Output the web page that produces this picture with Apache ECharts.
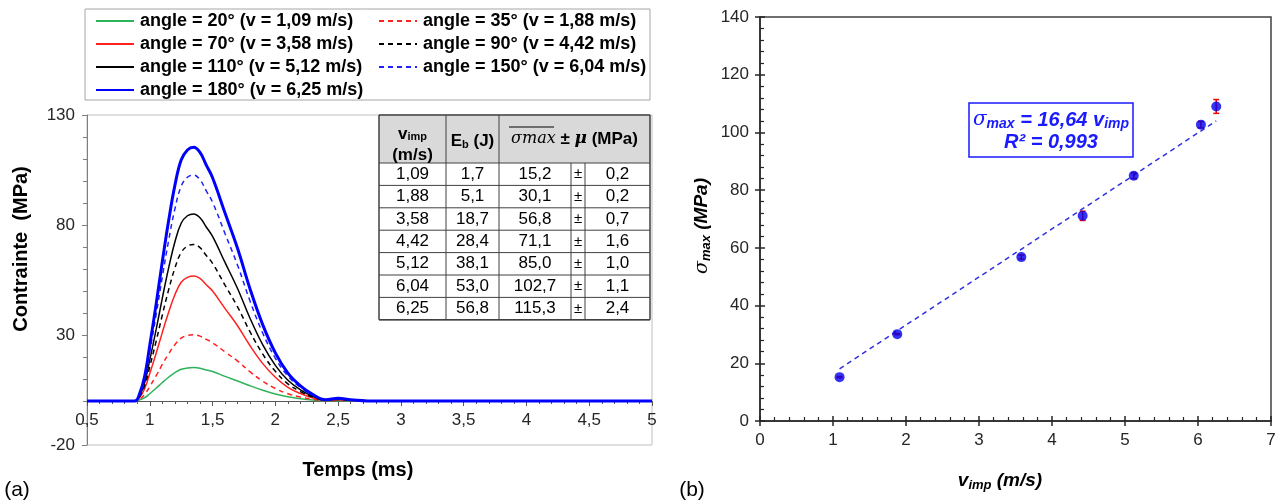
<!DOCTYPE html>
<html><head><meta charset="utf-8">
<script src="https://cdn.jsdelivr.net/npm/echarts@6/dist/echarts.min.js"></script>
<style>html,body{margin:0;padding:0;background:#fff}#c{width:1281px;height:503px}</style>
</head><body><div id="c"></div><script>
// ---- data: left chart (stress vs time)
const time = [0.5,0.88,0.92,0.96,1.0,1.05,1.1,1.15,1.2,1.25,1.3,1.35,1.4,1.45,1.5,1.6,1.7,1.8,1.9,2.0,2.1,2.2,2.3,2.4,2.5,2.6,2.8,5.0];
const s20  = [0,0,0.5,1.5,3.3,5.8,8.4,10.8,12.9,14.4,15.0,15.2,14.9,14.1,13.4,11.2,9.1,6.9,4.9,3.2,1.9,1.0,0.4,0.1,0.1,0.1,0,0];
const s35  = [0,0,0.9,3.0,6.6,11.4,16.6,21.4,25.6,28.6,29.8,30.1,29.5,28.0,26.5,22.3,18.1,13.2,9.0,5.7,3.3,1.8,0.8,0.2,0.3,0.2,0,0];
const s70  = [0,0,1.7,5.7,12.5,21.6,31.2,40.3,48.3,54.0,56.2,56.8,55.7,52.8,50.0,42.0,34.1,25.0,17.0,10.8,6.2,3.4,1.4,0.3,0.6,0.3,0,0];
const s90  = [0,0,2.1,7.1,15.6,27.0,39.1,50.5,60.4,67.5,70.4,71.1,69.7,66.1,62.6,52.6,42.7,31.3,21.3,13.5,7.8,4.3,1.8,0.4,0.7,0.4,0,0];
const s110 = [0,0,2.6,8.5,18.7,32.3,46.8,60.4,72.3,80.8,84.2,85.0,83.3,79.1,74.8,62.9,51.0,37.4,25.5,16.2,9.4,5.1,2.1,0.4,0.9,0.4,0,0];
const s150 = [0,0,3.1,10.3,22.6,39.0,56.5,72.9,87.3,97.6,101.7,102.7,100.6,95.5,90.4,76.0,61.6,45.2,30.8,19.5,11.3,6.2,2.6,0.5,1.0,0.5,0,0];
const s180 = [0,0,3.5,11.5,25.4,43.8,63.4,81.9,98.0,109.5,114.1,115.3,113.0,107.2,101.5,85.3,69.2,50.7,34.6,21.9,12.7,6.9,2.9,0.6,1.2,0.6,0,0];
const seriesNames = ['angle = 20° (v = 1,09 m/s)','angle = 35° (v = 1,88 m/s)','angle = 70° (v = 3,58 m/s)','angle = 90° (v = 4,42 m/s)','angle = 110° (v = 5,12 m/s)','angle = 150° (v = 6,04 m/s)','angle = 180° (v = 6,25 m/s)'];
// ---- table data
const vImp  = [1.09,1.88,3.58,4.42,5.12,6.04,6.25];
const eB    = [1.7,5.1,18.7,28.4,38.1,53.0,56.8];
const sigMax= [15.2,30.1,56.8,71.1,85.0,102.7,115.3];
const mu    = [0.2,0.2,0.7,1.6,1.0,1.1,2.4];
// ---- right chart data
const sigPlot = [15.2,30.1,56.8,71.1,85.0,102.7,109.0];
const trendX = [1.09,6.25];
const trendY = [18.1,104.0];

const FONT = '"Liberation Sans", Arial, sans-serif';
const fmt = (v,d)=>v.toFixed(d).replace('.',',');
const pair = arr => time.map((t,i)=>[t,arr[i]]);

const styles = [
  {c:'#2eb35a', t:'solid', w:1.5},
  {c:'#ff2020', t:'dashed', w:1.5},
  {c:'#ff2020', t:'solid', w:1.5},
  {c:'#000000', t:'dashed', w:1.5},
  {c:'#000000', t:'solid', w:1.5},
  {c:'#2020ff', t:'dashed', w:1.5},
  {c:'#0000ff', t:'solid', w:3}
];
const sData = [s20,s35,s70,s90,s110,s150,s180];
const lineSeries = sData.map((d,i)=>({
  type:'line', name:seriesNames[i], xAxisIndex:0, yAxisIndex:0, data:pair(d),
  symbol:'none', smooth:0.4, z: 2+i,
  lineStyle:{color:styles[i].c, type: styles[i].t==='dashed'?[5,4]:'solid', width:styles[i].w},
  itemStyle:{color:styles[i].c}
}));

// ---- table graphics
const TX = [379,446,499,571,585,650];
const TTOP = 115, THB = 163, RH = 22.4;
const TBOT = THB + RH*vImp.length;
const g = [];
g.push({type:'rect', shape:{x:TX[0],y:TTOP,width:TX[5]-TX[0],height:TBOT-TTOP}, style:{fill:'#fff'}, z:10});
g.push({type:'rect', shape:{x:TX[0],y:TTOP,width:TX[5]-TX[0],height:THB-TTOP}, style:{fill:'#d9d9d9'}, z:10});
const ln = (x1,y1,x2,y2,w,c)=>({type:'line', shape:{x1,y1,x2,y2}, style:{stroke:c||'#404040', lineWidth:w||1}, z:11});
for(let i=0;i<=vImp.length;i++){ const y = THB + RH*i; g.push(ln(TX[0],y,TX[5],y,1)); }
g.push(ln(TX[0],TTOP,TX[5],TTOP,1.5));
g.push(ln(TX[0],TTOP,TX[0],TBOT,1.5));
g.push(ln(TX[5],TTOP,TX[5],TBOT,1.5));
g.push(ln(TX[0],TBOT,TX[5],TBOT,1.5));
g.push(ln(TX[1],TTOP,TX[1],TBOT,1));
g.push(ln(TX[2],TTOP,TX[2],TBOT,1));
g.push(ln(TX[3],THB,TX[3],TBOT,1));
g.push(ln(TX[4],THB,TX[4],TBOT,1));
const tx = (x,y,text,extra)=>Object.assign({type:'text', x, y, z:12, style:Object.assign({text, fontFamily:FONT, fontSize:17, fill:'#000', align:'center', verticalAlign:'middle'}, extra||{})});
// header
g.push(tx((TX[0]+TX[1])/2, 134, '{b|v}{s|imp}', {rich:{b:{fontFamily:FONT,fontSize:17,fontWeight:'bold',fill:'#000'}, s:{fontFamily:FONT,fontSize:11,fontWeight:'bold',fill:'#000',padding:[6,0,0,0]}}}));
g.push(tx((TX[0]+TX[1])/2, 155, '(m/s)', {fontWeight:'bold'}));
g.push(tx((TX[1]+TX[2])/2, 141, '{b|E}{s|b}{b| (J)}', {rich:{b:{fontFamily:FONT,fontSize:17,fontWeight:'bold',fill:'#000'}, s:{fontFamily:FONT,fontSize:11,fontWeight:'bold',fill:'#000',padding:[7,0,0,0]}}}));
g.push(tx((TX[2]+TX[5])/2, 139, '{sg|σmax}{b| ± }{mu|μ}{b| (MPa)}', {rich:{
  sg:{fontFamily:'"DejaVu Serif", serif',fontStyle:'italic',fontSize:16,fill:'#000'},
  b:{fontFamily:FONT,fontSize:17,fontWeight:'bold',fill:'#000'},
  mu:{fontFamily:'"DejaVu Serif", serif',fontStyle:'italic',fontWeight:'bold',fontSize:17,fill:'#000'}}}));
g.push(ln(509,127,554,127,1,'#000'));
// rows
for(let i=0;i<vImp.length;i++){
  const y = THB + RH*(i+0.5);
  g.push(tx((TX[0]+TX[1])/2, y, fmt(vImp[i],2)));
  g.push(tx((TX[1]+TX[2])/2, y, fmt(eB[i],1)));
  g.push(tx((TX[2]+TX[3])/2, y, fmt(sigMax[i],1)));
  g.push(tx((TX[3]+TX[4])/2, y, '±', {fontSize:15}));
  g.push(tx((TX[4]+TX[5])/2, y, fmt(mu[i],1)));
}
// legend box
g.push({type:'rect', shape:{x:85,y:9,width:565,height:91}, style:{fill:'none', stroke:'#a6a6a6', lineWidth:1}, z:1});
// axis names
g.push({type:'text', x:21, y:249, rotation:Math.PI/2, style:{text:'Contrainte  (MPa)', fontFamily:FONT, fontSize:20, fontWeight:'bold', fill:'#000', align:'center', verticalAlign:'middle'}});
g.push({type:'text', x:358, y:470, style:{text:'Temps (ms)', fontFamily:FONT, fontSize:20, fontWeight:'bold', fill:'#000', align:'center', verticalAlign:'middle'}});
g.push({type:'text', x:17, y:490, style:{text:'(a)', fontFamily:FONT, fontSize:21, fill:'#000', align:'center', verticalAlign:'middle'}});
g.push({type:'text', x:692, y:490, style:{text:'(b)', fontFamily:FONT, fontSize:21, fill:'#000', align:'center', verticalAlign:'middle'}});
const richName = {
  sg:{fontFamily:'"DejaVu Serif", serif',fontStyle:'italic',fontSize:19,fill:'#000'},
  s:{fontFamily:FONT,fontStyle:'italic',fontWeight:'bold',fontSize:13,fill:'#000',padding:[8,0,0,0]},
  b:{fontFamily:FONT,fontStyle:'italic',fontWeight:'bold',fontSize:19,fill:'#000'}
};
g.push({type:'text', x:1000, y:481, style:{text:'{b|v}{s|imp}{b| (m/s)}', rich:richName, align:'center', verticalAlign:'middle'}});
g.push({type:'text', x:702, y:226, rotation:Math.PI/2, style:{text:'{sg|σ}{s|max}{b| (MPa)}', rich:richName, align:'center', verticalAlign:'middle'}});
// annotation box
g.push({type:'rect', shape:{x:969,y:103,width:164,height:54}, style:{fill:'#fff', stroke:'#1a1aff', lineWidth:1.5}, z:20});
const richA = {
  sg:{fontFamily:'"DejaVu Serif", serif',fontStyle:'italic',fontSize:20,fill:'#1a1aff'},
  s:{fontFamily:FONT,fontStyle:'italic',fontWeight:'bold',fontSize:14,fill:'#1a1aff',padding:[8,0,0,0]},
  b:{fontFamily:FONT,fontStyle:'italic',fontWeight:'bold',fontSize:20,fill:'#1a1aff'}
};
g.push({type:'text', x:1051, y:120, z:21, style:{text:'{sg|σ}{s|max}{b| = 16,64 v}{s|imp}', rich:richA, align:'center', verticalAlign:'middle'}});
g.push({type:'text', x:1051, y:142, z:21, style:{text:'{b|R² = 0,993}', rich:richA, align:'center', verticalAlign:'middle'}});

const axisTxt = {fontFamily:FONT, fontSize:17, color:'#262626'};
const legendCommon = {orient:'vertical', itemWidth:38, itemHeight:14, itemGap:5, padding:0,
  itemStyle:{opacity:0}, lineStyle:{inactiveWidth:0},
  textStyle:{fontFamily:FONT, fontSize:18, fontWeight:'bold', color:'#000', padding:[0,0,0,1]}};
const option = {
  animation:false,
  backgroundColor:'#fff',
  grid:[
    {left:87, top:115, width:565, height:330, show:true, borderColor:'#bfbfbf', borderWidth:1},
    {left:760, top:17, width:511, height:404, show:true, borderColor:'#404040', borderWidth:1.5}
  ],
  legend:[
    Object.assign({left:95, top:12, data:[seriesNames[0],seriesNames[2],seriesNames[4],seriesNames[6]]}, legendCommon),
    Object.assign({left:378, top:12, data:[seriesNames[1],seriesNames[3],seriesNames[5]]}, legendCommon)
  ],
  xAxis:[
    {gridIndex:0, type:'value', min:0.5, max:5, interval:0.5, position:'bottom', offset:-44,
     axisLine:{onZero:false, lineStyle:{color:'#595959'}},
     axisTick:{length:5, lineStyle:{color:'#595959'}},
     minorTick:{show:true, splitNumber:5, length:3, lineStyle:{color:'#595959'}},
     splitLine:{show:false},
     axisLabel:Object.assign({margin:11, formatter:v=>fmt(v, v%1===0?0:1)}, axisTxt)},
    {gridIndex:1, type:'value', min:0, max:7, interval:1, position:'bottom',
     axisLine:{onZero:false, lineStyle:{color:'#262626', width:1.5}},
     axisTick:{length:5, lineStyle:{color:'#262626', width:1.5}},
     splitLine:{show:false},
     axisLabel:Object.assign({margin:11}, axisTxt)},
    {gridIndex:1, type:'value', min:0, max:7, interval:1, position:'bottom',
     axisLine:{show:false, onZero:false},
     axisTick:{show:true, inside:true, length:5, lineStyle:{color:'#262626', width:1.5}},
     minorTick:{show:true, splitNumber:5, length:4, lineStyle:{color:'#262626', width:1.2}},
     splitLine:{show:false}, axisLabel:{show:false}}
  ],
  yAxis:[
    {gridIndex:0, type:'value', min:-20, max:130, interval:50, position:'left',
     axisLine:{show:true, onZero:false, lineStyle:{color:'#7f7f7f'}},
     axisTick:{show:true, length:5, lineStyle:{color:'#7f7f7f'}},
     minorTick:{show:true, splitNumber:5, length:4, lineStyle:{color:'#7f7f7f'}},
     splitLine:{show:false},
     axisLabel:Object.assign({margin:12, formatter:v=>String(v)}, axisTxt)},
    {gridIndex:1, type:'value', min:0, max:140, interval:20, position:'left',
     axisLine:{show:true, onZero:false, lineStyle:{color:'#262626', width:1.5}},
     axisTick:{show:true, length:5, lineStyle:{color:'#262626', width:1.5}},
     splitLine:{show:false},
     axisLabel:Object.assign({margin:11}, axisTxt)},
    {gridIndex:1, type:'value', min:0, max:140, interval:20, position:'left',
     axisLine:{show:false, onZero:false},
     axisTick:{show:true, inside:true, length:5, lineStyle:{color:'#262626', width:1.5}},
     minorTick:{show:true, splitNumber:5, length:4, lineStyle:{color:'#262626', width:1.2}},
     splitLine:{show:false}, axisLabel:{show:false}}
  ],
  series: lineSeries.concat([
    {type:'line', xAxisIndex:1, yAxisIndex:1, data:trendX.map((x,i)=>[x,trendY[i]]), symbol:'none',
     lineStyle:{color:'#3030e0', type:[5,4], width:1.5}, z:3},
    {type:'custom', xAxisIndex:1, yAxisIndex:1, z:4,
     data: vImp.map((v,i)=>[v, sigPlot[i], mu[i]]),
     renderItem:(params, api)=>{
       const x = api.value(0), y = api.value(1), e = api.value(2);
       const t = api.coord([x, y+e]), b = api.coord([x, y-e]);
       const st = {stroke:'#ff0000', lineWidth:1.5};
       return {type:'group', children:[
         {type:'line', shape:{x1:t[0],y1:t[1],x2:b[0],y2:b[1]}, style:st},
         {type:'line', shape:{x1:t[0]-3,y1:t[1],x2:t[0]+3,y2:t[1]}, style:st},
         {type:'line', shape:{x1:b[0]-3,y1:b[1],x2:b[0]+3,y2:b[1]}, style:st}
       ]};
     }},
    {type:'scatter', xAxisIndex:1, yAxisIndex:1, data:vImp.map((v,i)=>[v, sigPlot[i]]),
     symbol:'circle', symbolSize:10, itemStyle:{color:'#0000ee'}, z:5}
  ]),
  graphic: g
};
const chart = echarts.init(document.getElementById('c'), null, {renderer:'canvas'});
chart.setOption(option);
</script></body></html>
